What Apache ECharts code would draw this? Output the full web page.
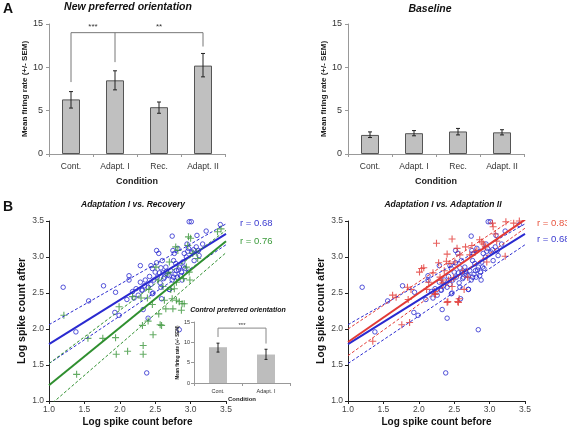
<!DOCTYPE html>
<html><head><meta charset="utf-8">
<script src="https://cdn.jsdelivr.net/npm/echarts@6/dist/echarts.min.js"></script>
<style>html,body{margin:0;padding:0;background:#fff}#c{width:567px;height:429px}</style>
</head><body><div id="c"></div>
<script>
// ---------- DATA ----------
const conditions = ['Cont.', 'Adapt. I', 'Rec.', 'Adapt. II'];
const newPrefMean = [6.3, 8.5, 5.4, 10.2];
const newPrefLow = [5.3, 7.4, 4.7, 8.9];
const newPrefHigh = [7.2, 9.6, 6.0, 11.6];
const baseMean = [2.2, 2.4, 2.6, 2.5];
const baseLow = [1.9, 2.1, 2.2, 2.2];
const baseHigh = [2.55, 2.7, 2.95, 2.8];
const insetConds = ['Cont.', 'Adapt. I'];
const insetMean = [8.8, 7.0];
const insetLow = [7.6, 5.8];
const insetHigh = [9.8, 8.3];
const barTicks = [0, 5, 10, 15];
const logTicks = [1.0, 1.5, 2.0, 2.5, 3.0, 3.5];
// significance brackets: [category index, value]
const bracketA1 = [[0, 8.3], [0, 14.0], [1, 14.0], [1, 10.6]];
const bracketA2 = [[1, 14.0], [3, 14.0], [3, 12.4]];
const bracketInset = [[0, 11.3], [0, 13.5], [1, 13.5], [1, 9.7]];
const starsA = [[0, 1, 14.7], [1, 3, 14.7]];
const starsALabels = ['***', '**'];
const starsInset = [[0, 1, 14.3]];
const starsInsetLabels = ['***'];
// scatter: [log count before, log count after]
const adaptIPts = [[1.20,2.58],[1.38,1.96],[1.56,2.39],[1.77,2.60],[1.94,2.51],[1.93,2.23],[1.99,2.19],[2.10,2.41],[2.13,2.74],[2.13,2.68],[2.20,2.43],[2.23,2.56],[2.29,2.65],[2.29,2.88],[2.32,2.54],[2.33,2.27],[2.36,2.68],[2.40,2.15],[2.38,1.39],[2.42,2.73],[2.44,2.88],[2.46,2.84],[2.47,2.50],[2.50,2.79],[2.52,2.92],[2.52,3.09],[2.55,3.05],[2.56,2.78],[2.57,2.64],[2.59,2.42],[2.60,2.95],[2.61,2.78],[2.63,2.72],[2.65,2.86],[2.68,2.75],[2.70,2.55],[2.72,2.81],[2.74,3.29],[2.75,3.09],[2.76,2.72],[2.77,3.05],[2.79,2.91],[2.80,2.81],[2.81,2.72],[2.82,3.12],[2.84,2.86],[2.84,1.99],[2.87,2.79],[2.88,2.68],[2.89,2.93],[2.90,2.86],[2.91,3.05],[2.94,3.00],[2.95,3.18],[2.97,3.12],[2.98,3.49],[3.01,3.49],[3.02,3.07],[3.05,2.95],[3.08,3.14],[3.09,3.30],[3.11,3.09],[3.12,3.02],[3.17,3.18],[3.22,3.36],[3.42,3.45],[2.62,2.70],[2.66,2.80],[2.70,2.74],[2.74,2.68],[2.78,2.76],[2.83,2.82],[2.86,2.74],[2.92,2.84],[2.53,2.72],[2.44,2.62],[2.40,2.58],[2.26,2.47],[2.18,2.52],[2.35,2.60],[2.48,2.68],[2.96,3.08],[3.04,3.10],[2.58,2.85],[2.76,2.95],[2.31,2.54],[2.46,2.49],[2.58,2.58],[2.70,2.55]];
const recoveryPts = [[1.21,2.19],[1.39,1.37],[1.55,1.87],[1.76,1.87],[1.94,1.88],[1.95,1.65],[1.99,2.31],[2.11,1.69],[2.18,2.45],[2.30,2.43],[2.33,1.77],[2.33,1.65],[2.32,2.05],[2.39,2.43],[2.40,2.11],[2.41,2.55],[2.47,1.92],[2.46,2.34],[2.51,2.86],[2.54,2.68],[2.55,2.21],[2.57,2.06],[2.59,2.05],[2.61,2.59],[2.63,2.40],[2.65,2.28],[2.68,2.78],[2.70,2.93],[2.72,2.55],[2.74,2.42],[2.75,2.28],[2.77,2.56],[2.79,3.14],[2.80,2.40],[2.80,2.65],[2.82,3.09],[2.84,2.38],[2.87,2.26],[2.88,2.35],[2.90,2.70],[2.91,2.35],[2.94,2.86],[2.96,3.16],[2.97,3.28],[2.99,2.68],[2.98,2.79],[3.00,3.26],[3.03,3.05],[3.08,3.07],[3.10,2.98],[3.38,3.35],[3.43,3.39]];
const adaptIIPts = [[1.35,1.83],[1.63,2.47],[1.68,2.44],[1.76,2.06],[1.84,2.58],[1.87,2.09],[1.85,2.41],[1.89,2.55],[2.01,2.79],[2.04,2.84],[2.07,2.85],[2.11,2.55],[2.14,2.65],[2.20,2.78],[2.22,2.52],[2.23,2.48],[2.25,3.19],[2.28,2.92],[2.30,2.72],[2.32,2.68],[2.34,2.64],[2.36,2.81],[2.39,2.94],[2.40,3.04],[2.41,2.38],[2.42,2.68],[2.44,2.91],[2.47,3.25],[2.47,2.59],[2.49,2.71],[2.51,2.93],[2.54,3.12],[2.55,2.38],[2.57,2.42],[2.58,3.03],[2.62,2.81],[2.64,2.55],[2.66,3.14],[2.69,2.72],[2.72,3.03],[2.75,3.16],[2.80,3.07],[2.82,3.09],[2.86,3.24],[2.89,3.21],[2.91,3.18],[2.94,3.14],[2.96,2.93],[3.04,3.47],[3.05,3.42],[3.08,3.32],[3.10,3.22],[3.22,3.01],[3.23,3.49],[3.34,3.47],[3.42,3.50],[2.40,2.37],[2.56,2.37],[2.23,2.49]];
// regression lines and confidence bands: [before, after]
const fitAdaptI = [[1.0,1.79],[3.5,3.32]];
const fitAdaptIUp = [[1.0,2.06],[3.5,3.46]];
const fitAdaptILo = [[1.0,1.52],[3.5,3.17]];
const fitRec = [[1.0,1.22],[3.5,3.22]];
const fitRecUp = [[1.0,1.52],[3.5,3.37]];
const fitRecLo = [[1.0,0.93],[3.5,3.06]];
const fitAdaptII = [[1.0,1.82],[3.5,3.52]];
const fitAdaptIIUp = [[1.0,2.00],[3.5,3.64]];
const fitAdaptIILo = [[1.0,1.63],[3.5,3.40]];
const rAdaptI = 'r = 0.68', rRec = 'r = 0.76', rAdaptII = 'r = 0.83';

// ---------- STYLE ----------
const FONT = 'Liberation Sans';
const BLUE = '#2a2ad0', GREEN = '#2f8f2f', RED = '#e23a36';
const chart = echarts.init(document.getElementById('c'), null, {renderer: 'canvas'});

function errRender(cap) {
  return function (params, api) {
    const x = api.value(0);
    const a = api.coord([x, api.value(1)]), b = api.coord([x, api.value(2)]);
    const st = {stroke: '#222', lineWidth: 1};
    return {type: 'group', children: [
      {type: 'line', shape: {x1: a[0], y1: a[1], x2: b[0], y2: b[1]}, style: st},
      {type: 'line', shape: {x1: a[0] - cap, y1: a[1], x2: a[0] + cap, y2: a[1]}, style: st},
      {type: 'line', shape: {x1: b[0] - cap, y1: b[1], x2: b[0] + cap, y2: b[1]}, style: st}
    ]};
  };
}
function starRender(labels, size) {
  return function (params, api) {
    const a = api.coord([api.value(0), api.value(2)]), b = api.coord([api.value(1), api.value(2)]);
    return {type: 'text', style: {text: labels[params.dataIndex], x: (a[0] + b[0]) / 2, y: a[1],
      textAlign: 'center', textVerticalAlign: 'middle', fontSize: size, fontFamily: FONT, fill: '#333'}};
  };
}
function barAxisY(gi, gap, fs, lm, nfs) {
  return {gridIndex: gi, type: 'value', min: 0, max: 15, interval: 5,
    name: 'Mean firing rate (+/- SEM)', nameLocation: 'middle', nameGap: gap,
    nameTextStyle: {fontFamily: FONT, fontSize: nfs, fontWeight: 'bold', color: '#222'},
    axisLine: {show: true, lineStyle: {color: '#999'}}, axisTick: {show: true, length: 3, lineStyle: {color: '#999'}},
    splitLine: {show: false}, axisLabel: {fontFamily: FONT, fontSize: fs, color: '#333', margin: lm}};
}
function barAxisX(gi, cats, gap, fs, lm, nfs) {
  return {gridIndex: gi, type: 'category', data: cats,
    name: 'Condition', nameLocation: 'middle', nameGap: gap,
    nameTextStyle: {fontFamily: FONT, fontSize: nfs, fontWeight: 'bold', color: '#222'},
    axisLine: {lineStyle: {color: '#999'}}, axisTick: {show: true, length: 3, lineStyle: {color: '#999'}},
    axisLabel: {fontFamily: FONT, fontSize: fs, color: '#333', margin: lm}};
}
function logAxis(gi, isX) {
  const o = {gridIndex: gi, type: 'value', min: 1, max: 3.5, interval: 0.5,
    name: isX ? 'Log spike count before' : 'Log spike count after', nameLocation: 'middle',
    nameGap: isX ? 16 : 21,
    nameTextStyle: {fontFamily: FONT, fontSize: isX ? 10 : 10.5, fontWeight: 'bold', color: '#111'},
    axisLine: {show: true, onZero: false, lineStyle: {color: '#222'}},
    axisTick: {show: true, length: 3, lineStyle: {color: '#222'}},
    splitLine: {show: false},
    axisLabel: {fontFamily: FONT, fontSize: 8.5, color: '#444', margin: isX ? 4 : 5, formatter: v => v.toFixed(1)}};
  return o;
}
function line(xi, yi, data, color, dashed) {
  return {type: 'line', xAxisIndex: xi, yAxisIndex: yi, data: data, showSymbol: false, symbol: 'none',
    silent: true, z: 4, lineStyle: {color: color, width: dashed ? 1 : 2, type: dashed ? [3, 2] : 'solid'}};
}
const circleSym = {symbol: 'circle', symbolSize: 4.5, itemStyle: {color: 'rgba(255,255,255,0)', borderColor: BLUE, borderWidth: 1}};
function crossSym(color) {
  return {symbol: 'path://M0,5L10,5M5,0L5,10', symbolSize: 7, itemStyle: {color: 'rgba(0,0,0,0)', borderColor: color, borderWidth: 1.1}};
}
function txt(text, x, y, size, opts) {
  return Object.assign({type: 'text', x: x, y: y, style: Object.assign({text: text, fontFamily: FONT, fontSize: size,
    fill: '#111', textAlign: 'center', textVerticalAlign: 'middle'}, opts || {})});
}

const option = {
  animation: false,
  backgroundColor: '#fff',
  grid: [
    {left: 49, top: 24, width: 176, height: 130},
    {left: 348, top: 24, width: 176, height: 130},
    {left: 49, top: 221, width: 177, height: 180},
    {left: 348, top: 221, width: 177, height: 180},
    {left: 194, top: 322, width: 96, height: 61, backgroundColor: '#fff', show: true, borderWidth: 0, z: 5}
  ],
  xAxis: [
    barAxisX(0, conditions, 23, 8.5, 8, 9),
    barAxisX(1, conditions, 23, 8.5, 8, 9),
    logAxis(2, true), logAxis(3, true),
    Object.assign(barAxisX(4, insetConds, 13, 5.5, 5, 6), {z: 6})
  ],
  yAxis: [
    barAxisY(0, 20, 9, 6, 8),
    barAxisY(1, 20, 9, 6, 8),
    logAxis(2, false), logAxis(3, false),
    Object.assign(barAxisY(4, 8, 5.5, 4, 4.5), {z: 6})
  ],
  series: [
    // A left
    {type: 'bar', xAxisIndex: 0, yAxisIndex: 0, data: newPrefMean, barWidth: 18,
      itemStyle: {color: '#c0c0c0', borderColor: '#555', borderWidth: 1}},
    {type: 'custom', xAxisIndex: 0, yAxisIndex: 0, renderItem: errRender(2),
      data: newPrefMean.map((v, i) => [i, newPrefLow[i], newPrefHigh[i]]), encode: {x: 0, y: [1, 2]}, z: 3},
    {type: 'line', xAxisIndex: 0, yAxisIndex: 0, data: bracketA1, symbol: 'none', lineStyle: {color: '#777', width: 1}},
    {type: 'line', xAxisIndex: 0, yAxisIndex: 0, data: bracketA2, symbol: 'none', lineStyle: {color: '#777', width: 1}},
    {type: 'custom', xAxisIndex: 0, yAxisIndex: 0, renderItem: starRender(starsALabels, 8),
      data: starsA, encode: {x: [0, 1], y: 2}},
    // A right
    {type: 'bar', xAxisIndex: 1, yAxisIndex: 1, data: baseMean, barWidth: 18,
      itemStyle: {color: '#c0c0c0', borderColor: '#555', borderWidth: 1}},
    {type: 'custom', xAxisIndex: 1, yAxisIndex: 1, renderItem: errRender(2),
      data: baseMean.map((v, i) => [i, baseLow[i], baseHigh[i]]), encode: {x: 0, y: [1, 2]}, z: 3},
    // B left
    Object.assign({type: 'scatter', xAxisIndex: 2, yAxisIndex: 2, data: adaptIPts, z: 2}, circleSym),
    Object.assign({type: 'scatter', xAxisIndex: 2, yAxisIndex: 2, data: recoveryPts, z: 3}, crossSym('#3c963c')),
    line(2, 2, fitAdaptIUp, BLUE, true), line(2, 2, fitAdaptILo, BLUE, true), line(2, 2, fitAdaptI, BLUE, false),
    line(2, 2, fitRecUp, GREEN, true), line(2, 2, fitRecLo, GREEN, true), line(2, 2, fitRec, GREEN, false),
    // B right
    Object.assign({type: 'scatter', xAxisIndex: 3, yAxisIndex: 3, data: adaptIPts, z: 2}, circleSym),
    Object.assign({type: 'scatter', xAxisIndex: 3, yAxisIndex: 3, data: adaptIIPts, z: 3}, crossSym(RED)),
    line(3, 3, fitAdaptIUp, BLUE, true), line(3, 3, fitAdaptILo, BLUE, true), line(3, 3, fitAdaptI, BLUE, false),
    line(3, 3, fitAdaptIIUp, RED, true), line(3, 3, fitAdaptIILo, RED, true), line(3, 3, fitAdaptII, RED, false),
    // inset
    {type: 'bar', xAxisIndex: 4, yAxisIndex: 4, data: insetMean, barWidth: 18, z: 7,
      itemStyle: {color: '#bdbdbd'}},
    {type: 'custom', xAxisIndex: 4, yAxisIndex: 4, renderItem: errRender(1.5), z: 8,
      data: insetMean.map((v, i) => [i, insetLow[i], insetHigh[i]]), encode: {x: 0, y: [1, 2]}},
    {type: 'line', xAxisIndex: 4, yAxisIndex: 4, data: bracketInset, symbol: 'none', z: 8, lineStyle: {color: '#888', width: 1}},
    {type: 'custom', xAxisIndex: 4, yAxisIndex: 4, renderItem: starRender(starsInsetLabels, 6), z: 8,
      data: starsInset, encode: {x: [0, 1], y: 2}}
  ],
  graphic: [
    txt('A', 8, 9, 14, {fontWeight: 'bold'}),
    txt('B', 8, 207, 14, {fontWeight: 'bold'}),
    txt('New preferred orientation', 128, 7, 10.5, {fontWeight: 'bold', fontStyle: 'italic'}),
    txt('Baseline', 430, 9, 10.5, {fontWeight: 'bold', fontStyle: 'italic'}),
    txt('Adaptation I vs. Recovery', 133, 205, 8.5, {fontWeight: 'bold', fontStyle: 'italic'}),
    txt('Adaptation I vs. Adaptation II', 443, 205, 8.5, {fontWeight: 'bold', fontStyle: 'italic'}),
    txt('Control preferred orientation', 238, 310, 7, {fontWeight: 'bold', fontStyle: 'italic'}),
    txt(rAdaptI, 240, 223, 9.5, {fill: '#3a3ad0', textAlign: 'left'}),
    txt(rRec, 240, 241, 9.5, {fill: '#3a9a3a', textAlign: 'left'}),
    txt(rAdaptII, 537, 223, 9.5, {fill: '#e8553f', textAlign: 'left'}),
    txt(rAdaptI, 537, 239, 9.5, {fill: '#3a3ad0', textAlign: 'left'})
  ]
};
chart.setOption(option);
</script></body></html>
